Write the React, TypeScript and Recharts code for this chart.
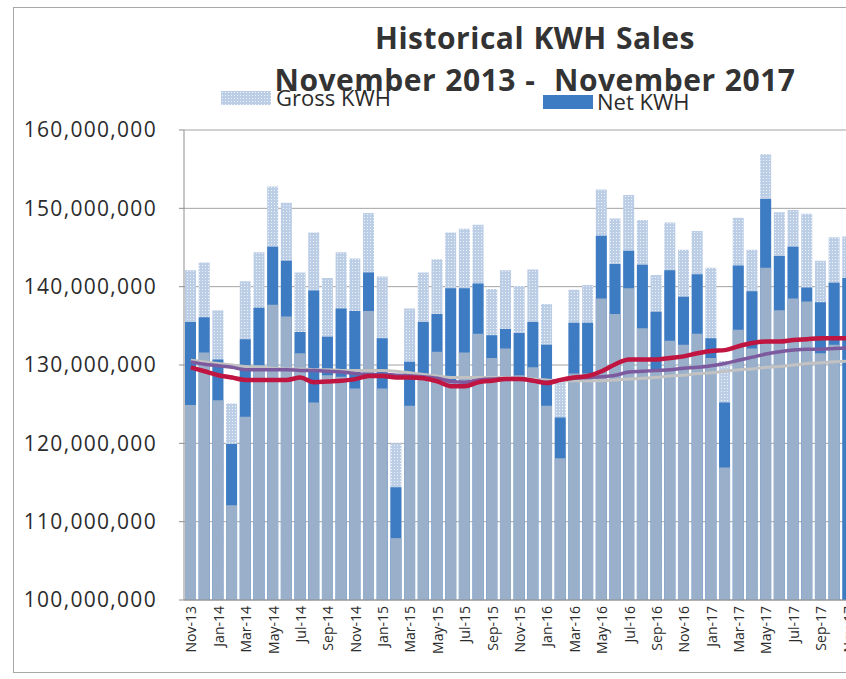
import React from "react"
import { Bar, CartesianGrid, ComposedChart, Line, XAxis, YAxis } from "recharts"

// values in millions of kWh, Nov-13 .. Nov-17
const months = [
  "Nov-13", "Dec-13", "Jan-14", "Feb-14", "Mar-14", "Apr-14", "May-14", "Jun-14", "Jul-14", "Aug-14", "Sep-14", "Oct-14",
  "Nov-14", "Dec-14", "Jan-15", "Feb-15", "Mar-15", "Apr-15", "May-15", "Jun-15", "Jul-15", "Aug-15", "Sep-15", "Oct-15",
  "Nov-15", "Dec-15", "Jan-16", "Feb-16", "Mar-16", "Apr-16", "May-16", "Jun-16", "Jul-16", "Aug-16", "Sep-16", "Oct-16",
  "Nov-16", "Dec-16", "Jan-17", "Feb-17", "Mar-17", "Apr-17", "May-17", "Jun-17", "Jul-17", "Aug-17", "Sep-17", "Oct-17",
  "Nov-17",
]

const grossKwh = [
  142.1, 143.1, 137.0, 125.1, 140.7, 144.4, 152.8, 150.7, 141.8, 146.9, 141.1, 144.4,
  143.6, 149.4, 141.3, 120.0, 137.2, 141.8, 143.5, 146.9, 147.4, 147.9, 139.7, 142.1,
  140.1, 142.2, 137.8, 128.1, 139.6, 140.2, 152.4, 148.7, 151.7, 148.5, 141.5, 148.2,
  144.7, 147.1, 142.4, 130.5, 148.8, 144.7, 156.9, 149.5, 149.8, 149.3, 143.3, 146.3,
  146.4,
]

const netKwh = [
  135.5, 136.1, 130.7, 119.9, 133.3, 137.3, 145.1, 143.3, 134.2, 139.5, 133.6, 137.2,
  136.9, 141.8, 133.4, 114.4, 130.4, 135.5, 136.5, 139.8, 139.8, 140.4, 133.8, 134.6,
  134.1, 135.5, 132.6, 123.3, 135.4, 135.4, 146.5, 142.9, 144.6, 142.8, 136.8, 142.1,
  138.7, 141.6, 133.4, 125.2, 142.7, 139.4, 151.2, 143.9, 145.1, 139.9, 138.0, 140.5,
  141.1,
]

const baseKwh = [
  124.9, 131.6, 125.5, 112.1, 123.4, 130.0, 137.7, 136.2, 131.5, 125.2, 128.7, 128.5,
  127.0, 136.9, 127.0, 107.9, 124.8, 128.6, 131.7, 128.0, 131.6, 134.0, 130.9, 132.1,
  128.7, 129.7, 124.8, 118.1, 128.9, 128.9, 138.5, 136.5, 139.8, 134.7, 129.5, 133.1,
  132.6, 134.0, 130.9, 116.9, 134.5, 132.1, 142.4, 137.0, 138.5, 138.1, 131.5, 132.6,
  null,
]

const avgRed = [
  129.7, 129.2, 128.7, 128.4, 128.1, 128.1, 128.1, 128.1, 128.4, 127.8, 127.9, 128.0,
  128.2, 128.6, 128.6, 128.4, 128.4, 128.3, 127.9, 127.3, 127.3, 127.8, 128.0, 128.2,
  128.2, 128.0, 127.7, 128.1, 128.4, 128.6, 129.2, 130.1, 130.7, 130.7, 130.7, 130.9,
  131.1, 131.5, 131.8, 131.9, 132.4, 132.8, 133.0, 133.0, 133.2, 133.3, 133.4, 133.4,
  133.4,
]

const avgPurple = [
  130.4, 130.1, 129.9, 129.7, 129.4, 129.4, 129.4, 129.4, 129.3, 129.3, 129.2, 129.1,
  128.9, 128.8, 128.8, 128.7, 128.6, 128.5, 128.3, 127.9, 127.8, 128.1, 128.2, 128.2,
  128.2, 128.0, 127.8, 128.1, 128.3, 128.4, 128.5, 128.7, 129.1, 129.2, 129.3, 129.4,
  129.6, 129.7, 129.9, 130.2, 130.6, 131.0, 131.4, 131.7, 131.9, 132.0, 132.0, 132.1,
  132.2,
]

const avgGray = [
  130.6, 130.4, 130.2, 130.0, 129.8, 129.7, 129.6, 129.5, 129.5, 129.4, 129.4, 129.3,
  129.3, 129.3, 129.3, 129.2, 129.0, 128.8, 128.6, 128.4, 128.4, 128.4, 128.4, 128.4,
  128.3, 128.2, 128.1, 128.0, 128.0, 128.0, 128.0, 128.1, 128.2, 128.3, 128.4, 128.6,
  128.7, 128.9, 129.0, 129.2, 129.4, 129.5, 129.7, 129.8, 130.0, 130.2, 130.3, 130.4,
  130.5,
]

const yTicks = [100, 110, 120, 130, 140, 150, 160]

const data = months.map((m, i) => ({
  month: m,
  gross: grossKwh[i],
  net: netKwh[i],
  base: baseKwh[i],
  red: avgRed[i],
  purple: avgPurple[i],
  gray: avgGray[i],
}))

const NET = "#3d7cc3"
const BASE = "#9ab0ca"
const AXIS = "#8f8f8f"
const TEXT = "#2b2b2b"
const FONT = "'Open Sans', sans-serif"

const fmt = (v: number) => (v * 1e6).toLocaleString("en-US")

// rotated month label, reads bottom-to-top, ends just under the axis
function MonthTick({ x, payload }: any) {
  return (
    <text
      transform={`translate(${x},606) rotate(-90)`}
      textAnchor="end"
      dominantBaseline="central"
      fontFamily={FONT}
      fontSize={14}
      fill={TEXT}
    >
      {payload.value}
    </text>
  )
}

function DotSwatch({ w, h }: { w: number; h: number }) {
  return (
    <svg width={w} height={h} style={{ display: "block" }}>
      <defs>
        <pattern id="dotsLegend" width="3" height="3" patternUnits="userSpaceOnUse">
          <rect width="3" height="3" fill="#bccde6" />
          <rect x="1" y="1" width="1" height="1" fill="#eef3fa" />
        </pattern>
      </defs>
      <rect width={w} height={h} fill="url(#dotsLegend)" />
    </svg>
  )
}

export default function App() {
  return (
    <div style={{ position: "fixed", left: 0, top: 0, width: 846, height: 679, overflow: "hidden", background: "#fff" }}>
      <div
        style={{
          position: "absolute",
          left: 13,
          top: 7,
          width: 900,
          height: 664,
          border: "1px solid #a8a8a8",
        }}
      />
      <div style={{ position: "absolute", left: 0, top: 0 }}>
        <ComposedChart
          width={855}
          height={679}
          data={data}
          margin={{ top: 130, right: 0, left: 0, bottom: 19 }}
          barCategoryGap={0}
        >
          <defs>
            <pattern id="dotsBar" width="3" height="3" patternUnits="userSpaceOnUse">
              <rect width="3" height="3" fill="#bccde6" />
              <rect x="1" y="1" width="1" height="1" fill="#eef3fa" />
            </pattern>
          </defs>
          <CartesianGrid vertical={false} stroke="#a3a3a3" strokeWidth={1} />
          <XAxis
            xAxisId="g"
            dataKey="month"
            height={60}
            interval={1}
            tick={<MonthTick />}
            tickLine={false}
            axisLine={{ stroke: AXIS }}
          />
          <XAxis xAxisId="n" dataKey="month" height={0} hide />
          <XAxis xAxisId="b" dataKey="month" height={0} hide />
          <YAxis
            width={184}
            domain={[100, 160]}
            ticks={yTicks}
            allowDataOverflow
            tickFormatter={fmt}
            tickSize={5}
            tickMargin={22}
            axisLine={{ stroke: AXIS }}
            tickLine={{ stroke: AXIS }}
            tick={{ fontFamily: FONT, fontSize: 21, fill: TEXT, letterSpacing: 1.3 }}
          />
          <Bar xAxisId="g" dataKey="gross" name="Gross KWH" fill="url(#dotsBar)" barSize={11} isAnimationActive={false} />
          <Bar xAxisId="n" dataKey="net" name="Net KWH" fill={NET} barSize={11} isAnimationActive={false} />
          <Bar xAxisId="b" dataKey="base" name="Base KWH" fill={BASE} barSize={11} isAnimationActive={false} />
          <Line xAxisId="g" dataKey="gray" type="monotone" stroke="#c2c2c2" strokeWidth={3} dot={false} isAnimationActive={false} />
          <Line xAxisId="g" dataKey="purple" type="monotone" stroke="#7d5a9e" strokeWidth={3.5} dot={false} isAnimationActive={false} />
          <Line xAxisId="g" dataKey="red" type="monotone" stroke="#c01540" strokeWidth={4.5} dot={false} isAnimationActive={false} />
        </ComposedChart>
      </div>

      {/* legend */}
      <div style={{ position: "absolute", left: 221, top: 91 }}>
        <DotSwatch w={50} h={14} />
      </div>
      <div style={{ position: "absolute", left: 276, top: 83, fontFamily: FONT, fontSize: 22, color: TEXT, lineHeight: "28px" }}>
        Gross KWH
      </div>
      <div style={{ position: "absolute", left: 543, top: 95, width: 50, height: 14, background: NET }} />
      <div style={{ position: "absolute", left: 597, top: 87, fontFamily: FONT, fontSize: 22, color: TEXT, lineHeight: "28px" }}>
        Net KWH
      </div>

      {/* title */}
      <div
        style={{
          position: "absolute",
          left: 235,
          width: 600,
          top: 17,
          textAlign: "center",
          fontFamily: FONT,
          fontWeight: 700,
          fontSize: 30,
          lineHeight: "42px",
          color: "#333",
          whiteSpace: "pre",
          letterSpacing: 0.5,
          wordSpacing: 1,
        }}
      >
        {"Historical KWH Sales\nNovember 2013 -  November 2017"}
      </div>
    </div>
  )
}
